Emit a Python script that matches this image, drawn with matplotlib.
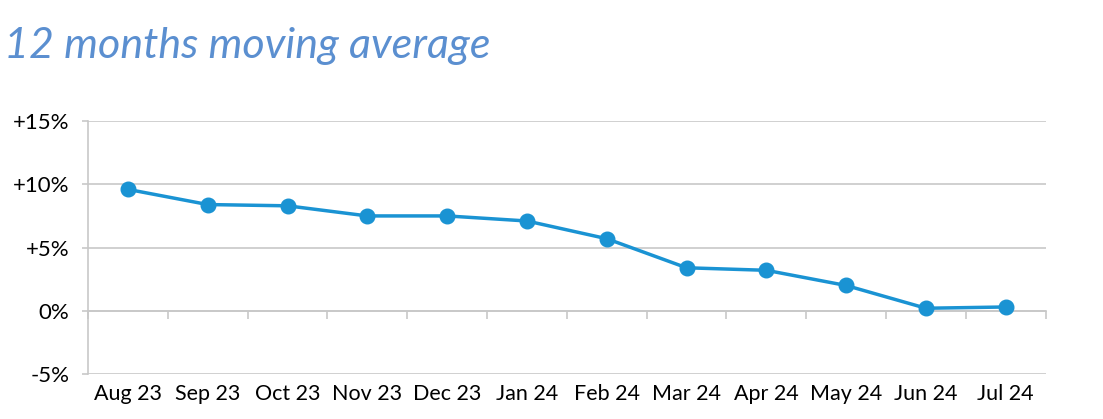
import matplotlib.pyplot as plt
from matplotlib.ticker import FuncFormatter, FixedLocator

# données
months = ['Aug 23', 'Sep 23', 'Oct 23', 'Nov 23', 'Dec 23', 'Jan 24',
          'Feb 24', 'Mar 24', 'Apr 24', 'May 24', 'Jun 24', 'Jul 24']
moving_avg = [9.6, 8.4, 8.3, 7.5, 7.5, 7.1, 5.7, 3.4, 3.2, 2.0, 0.2, 0.3]
y_ticks = [-5, 0, 5, 10, 15]

plt.rcParams['font.family'] = ['Lato', 'DejaVu Sans']

fig = plt.figure(figsize=(11.03, 4.19), dpi=100)
ax = fig.add_axes([0.0798, 0.1074, 0.8682, 0.6036])

x = list(range(len(months)))
ax.plot(x, moving_avg, color='#1a93d3', linewidth=2.5, marker='o', markersize=10.5, zorder=3)

ax.set_xlim(-0.5, len(months) - 0.5)
ax.set_ylim(-5, 15)
ax.set_yticks(y_ticks)
ax.yaxis.set_major_formatter(FuncFormatter(lambda v, p: '0%' if v == 0 else f'{v:+.0f}%'))
ax.grid(axis='y', color='#c8c8c8', linewidth=1.2)
ax.set_axisbelow(True)

for s in ['top', 'right', 'bottom']:
    ax.spines[s].set_visible(False)
ax.spines['left'].set_color('#c8c8c8')
ax.spines['left'].set_linewidth(1.2)

ax.tick_params(axis='y', length=4.5, color='#c8c8c8', width=1.2, pad=9, labelsize=16)
ax.set_xticks(x)
ax.set_xticklabels(months)
ax.tick_params(axis='x', length=0, pad=7, labelsize=15.5)

# axe à 0% avec les graduations entre les catégories
sec = ax.secondary_xaxis(0.25)
sec.xaxis.set_major_locator(FixedLocator([i - 0.5 for i in range(len(months) + 1)]))
sec.tick_params(axis='x', length=6, color='#c8c8c8', width=1.2, labelbottom=False)
sec.spines['bottom'].set_color('#c8c8c8')
sec.spines['bottom'].set_linewidth(1.2)

fig.text(0.004, 0.89, '12 months moving average', fontsize=31, style='italic',
         color='#5b8fd0', va='center', ha='left')

plt.savefig('out.png', dpi=100)
